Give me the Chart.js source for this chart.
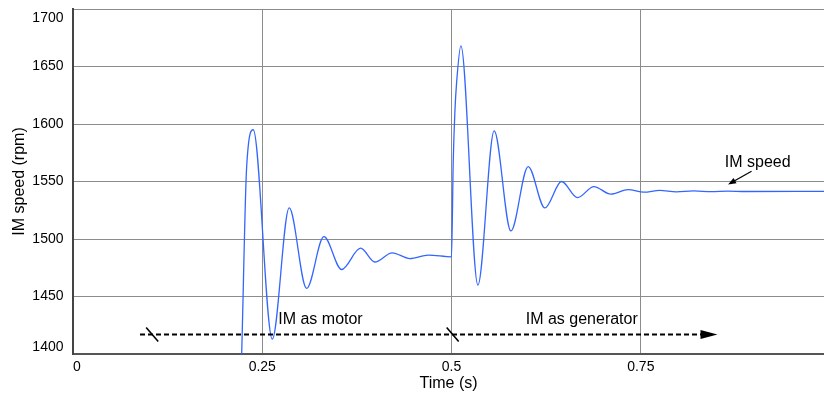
<!DOCTYPE html>
<html><head><meta charset="utf-8">
<script src="https://cdn.jsdelivr.net/npm/chart.js@4/dist/chart.umd.min.js"></script>
<style>html,body{margin:0;padding:0;background:#fff;}canvas{display:block}</style>
</head><body>
<canvas id="c" width="824" height="397"></canvas>
<script>
// ---- data ----
const timeS = [0.215, 0.2228, 0.2294, 0.2381, 0.2632, 0.2856, 0.3086, 0.3314, 0.3548, 0.3799,
  0.3988, 0.4216, 0.4450, 0.4692, 0.5000, 0.5022, 0.5044, 0.5067, 0.5124, 0.5348,
  0.5563, 0.5784, 0.6012, 0.6233, 0.6453, 0.6664, 0.6880, 0.7104, 0.7333, 0.7540,
  0.7750, 0.7970, 0.8200, 0.8430, 0.8650, 0.8880, 0.992];
const speedRpm = [1230, 1400, 1563, 1595, 1413, 1527, 1457, 1502, 1473.5, 1492,
  1480, 1488, 1483, 1486, 1484.5, 1566, 1610, 1636, 1668, 1460,
  1594, 1507, 1563, 1527, 1550, 1536, 1545.5, 1539, 1543, 1540.7,
  1542.2, 1541.0, 1541.8, 1541.2, 1541.7, 1541.3, 1541.4];
const xTickValues = [0, 0.25, 0.5, 0.75];
const xTickLabels = ['0', '0.25', '0.5', '0.75'];
const yTickValues = [1400, 1450, 1500, 1550, 1600, 1650, 1700];
const yTickLabels = ['1400', '1450', '1500', '1550', '1600', '1650', '1700'];
const seriesName = 'IM speed';
const xTitle = 'Time (s)';
const yTitle = 'IM speed (rpm)';
// annotations (data coordinates)
const modeArrow = {from: 0.0885, to: 0.8513, level: 1417};
const modeBreaks = [0.1046, 0.5015];
const modeLabels = [{text: 'IM as motor', t: 0.2711, v: 1426.5}, {text: 'IM as generator', t: 0.598, v: 1426.5}];
const speedLabel = {text: 'IM speed', t: 0.861, v: 1562.8, tailT: 0.8963, tailV: 1559, tipT: 0.8653, tipV: 1547.4};

const FONT = '"Liberation Sans", Arial, Helvetica, sans-serif';

const overlay = {
  id: 'overlay',
  afterDraw(chart) {
    const {ctx, chartArea: a, scales: {x, y}} = chart;
    ctx.save();
    ctx.fillStyle = '#000';
    ctx.font = '14px ' + FONT;
    // y tick labels (clamped inside plot like the reference)
    ctx.textAlign = 'right';
    ctx.textBaseline = 'middle';
    yTickValues.forEach((v, i) => {
      let py = y.getPixelForValue(v);
      py = Math.min(Math.max(py, a.top + 9), a.bottom - 7);
      ctx.fillText(yTickLabels[i], a.left - 9.5, py);
    });
    // x tick labels
    xTickValues.forEach((v, i) => {
      const px = x.getPixelForValue(v);
      const s = xTickLabels[i];
      const w = ctx.measureText(s).width;
      if (px - w / 2 < a.left) { ctx.textAlign = 'left'; ctx.fillText(s, a.left, a.bottom + 13); }
      else { ctx.textAlign = 'center'; ctx.fillText(s, px, a.bottom + 13); }
    });

    // dashed mode arrow
    const yy = y.getPixelForValue(modeArrow.level);
    const x0 = x.getPixelForValue(modeArrow.from);
    const tip = x.getPixelForValue(modeArrow.to);
    ctx.strokeStyle = '#000';
    ctx.lineWidth = 2;
    ctx.setLineDash([5, 3]);
    ctx.beginPath(); ctx.moveTo(x0, yy); ctx.lineTo(tip - 16, yy); ctx.stroke();
    ctx.setLineDash([]);
    ctx.beginPath(); ctx.moveTo(tip, yy); ctx.lineTo(tip - 17, yy - 4.5); ctx.lineTo(tip - 17, yy + 4.5); ctx.closePath(); ctx.fill();
    // break slashes
    ctx.lineWidth = 1.6;
    modeBreaks.forEach(t => {
      const cx = x.getPixelForValue(t);
      ctx.beginPath(); ctx.moveTo(cx - 6, yy - 7); ctx.lineTo(cx + 6, yy + 7); ctx.stroke();
    });
    // mode labels
    ctx.font = '16px ' + FONT;
    ctx.textAlign = 'left';
    ctx.textBaseline = 'alphabetic';
    modeLabels.forEach(l => ctx.fillText(l.text, x.getPixelForValue(l.t), y.getPixelForValue(l.v)));
    // speed label + pointer
    ctx.fillText(speedLabel.text, x.getPixelForValue(speedLabel.t), y.getPixelForValue(speedLabel.v));
    const tx = x.getPixelForValue(speedLabel.tailT), ty = y.getPixelForValue(speedLabel.tailV);
    const hx = x.getPixelForValue(speedLabel.tipT), hy = y.getPixelForValue(speedLabel.tipV);
    const ang = Math.atan2(hy - ty, hx - tx);
    ctx.lineWidth = 1.2;
    ctx.beginPath(); ctx.moveTo(tx, ty); ctx.lineTo(hx - 5 * Math.cos(ang), hy - 5 * Math.sin(ang)); ctx.stroke();
    ctx.beginPath();
    ctx.moveTo(hx, hy);
    ctx.lineTo(hx - 8 * Math.cos(ang) + 3 * Math.sin(ang), hy - 8 * Math.sin(ang) - 3 * Math.cos(ang));
    ctx.lineTo(hx - 8 * Math.cos(ang) - 3 * Math.sin(ang), hy - 8 * Math.sin(ang) + 3 * Math.cos(ang));
    ctx.closePath(); ctx.fill();
    ctx.restore();
  }
};

new Chart(document.getElementById('c'), {
  type: 'line',
  data: {
    datasets: [{
      label: seriesName,
      data: timeS.map((t, i) => ({x: t, y: speedRpm[i]})),
      borderColor: '#3366ff',
      borderWidth: 1.3,
      pointRadius: 0,
      fill: false,
      cubicInterpolationMode: 'monotone'
    }]
  },
  options: {
    responsive: false,
    animation: false,
    devicePixelRatio: 1,
    layout: {padding: {top: 9, right: 0, bottom: 0, left: 0}},
    plugins: {legend: {display: false}, tooltip: {enabled: false}},
    scales: {
      x: {
        type: 'linear', min: 0, max: 0.992,
        afterBuildTicks: s => { s.ticks = xTickValues.map(v => ({value: v})); },
        afterFit: s => { s.height = 43; },
        ticks: {display: false},
        grid: {color: '#8c8c8c', lineWidth: 1, drawTicks: false},
        border: {color: '#555', width: 2},
        title: {display: true, text: xTitle, color: '#000', font: {family: FONT, size: 16}, padding: {top: 0, bottom: 4}}
      },
      y: {
        type: 'linear', min: 1400, max: 1700,
        afterBuildTicks: s => { s.ticks = yTickValues.map(v => ({value: v})); },
        afterFit: s => { s.width = 73; },
        ticks: {display: false},
        grid: {color: '#8c8c8c', lineWidth: 1, drawTicks: false},
        border: {color: '#444', width: 2},
        title: {display: true, text: yTitle, color: '#000', font: {family: FONT, size: 16}, padding: {top: 10, bottom: 0}}
      }
    }
  },
  plugins: [overlay]
});
</script>
</body></html>
